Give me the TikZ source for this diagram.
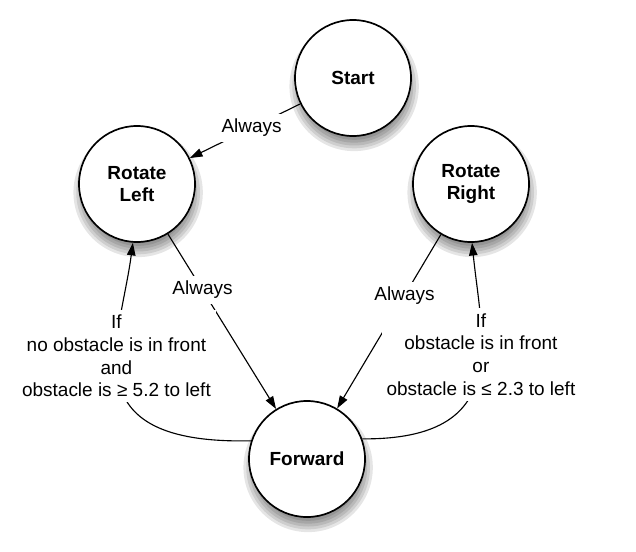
\documentclass[tikz,border=0pt]{standalone}
\usepackage{fontspec}
\setmainfont{Liberation Sans}
\usepackage{tikz}
\usetikzlibrary{arrows.meta,positioning,backgrounds}
\newcommand{\lblfont}{\fontsize{13.5}{16.2}\selectfont}

\begin{document}
\begin{tikzpicture}[x=0.025cm, y=-0.025cm, ->, >={Triangle[length=9pt,width=6pt]},
   line width=0.8pt,
   state/.style={circle, draw, line width=1.2pt, fill=white, minimum size=2.9cm,
     align=center, font=\lblfont\bfseries},
   lbl/.style={fill=white, inner sep=3.5pt, align=center, font=\lblfont}]
   \useasboundingbox (0,0) rectangle (636,551);
   \node[state] (start) at (353,78) {Start};
   \node[state] (rl) at (137,184) {Rotate\\Left};
   \node[state] (rr) at (471,184) {Rotate\\Right};
   \node[state] (fwd) at (307,459) {Forward};
  % soft shadows
  \begin{scope}[on background layer]
    \foreach \n in {start,rl,rr,fwd}
      \foreach \r in {36,38,...,46}
        \fill[black, opacity=0.1] ([xshift=0.8pt,yshift=-6pt]\n.center) circle (\r pt);
  \end{scope}
  \path (start) edge node[lbl,pos=0.44] (al1) {Always} (rl);
  \path (rl) edge node[lbl,pos=0.32] (al2) {Always} (fwd);
  \path (rr) edge node[lbl,pos=0.35] (al3) {Always} (fwd);
  \draw (fwd.162) .. controls +(-182,4) and +(-13,98) .. node[lbl,pos=0.6] (ifl)
     {If\\no obstacle is in front\\and\\obstacle is ≥ 5.2 to left} (rl.266);
  \draw (fwd.20) .. controls +(150,1) and +(10,98) .. node[lbl,pos=0.6] (ifr)
     {If\\obstacle is in front\\or\\obstacle is ≤ 2.3 to left} (rr.271);
\end{tikzpicture}
\end{document}
